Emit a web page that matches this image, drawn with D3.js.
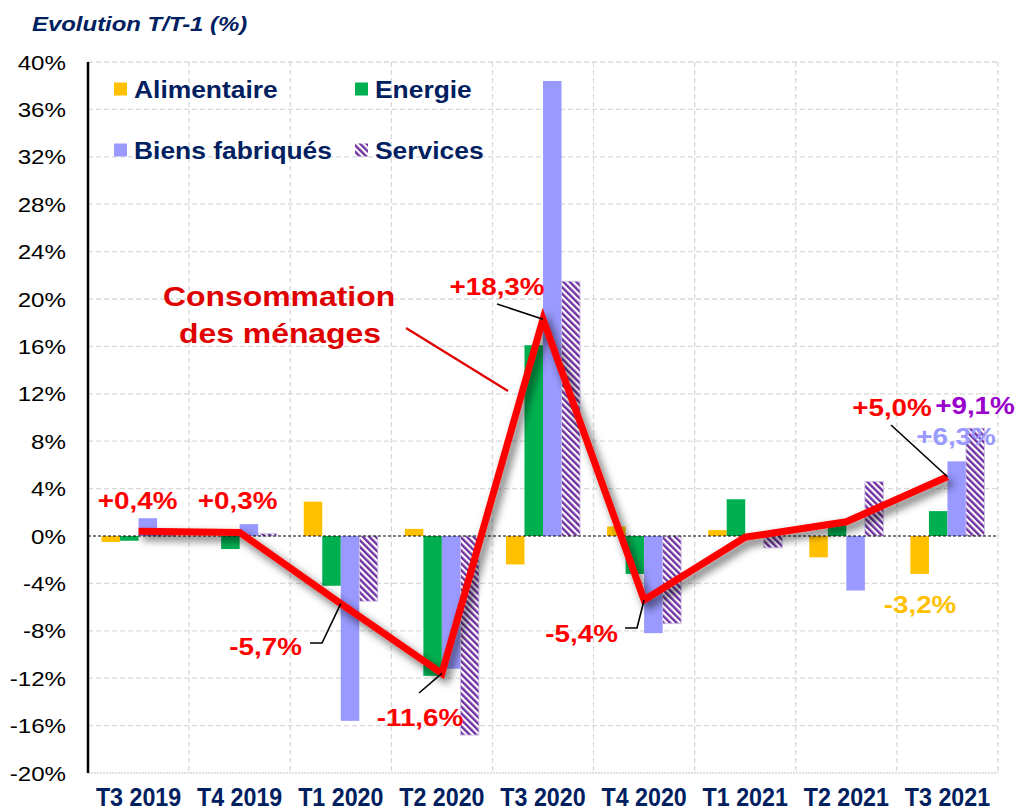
<!DOCTYPE html>
<html><head><meta charset="utf-8">
<script src="https://cdn.jsdelivr.net/npm/d3@7"></script>
<style>body{margin:0;background:#fff}svg{display:block}</style>
</head><body>
<svg id="c" width="1016" height="812"></svg>
<script>
const categories = ["T3 2019","T4 2019","T1 2020","T2 2020","T3 2020","T4 2020","T1 2021","T2 2021","T3 2021"];
const seriesNames = ["Alimentaire","Energie","Biens fabriqués","Services"];
const alimentaire = [-0.5, 0.0, 2.9, 0.6, -2.4, 0.8, 0.5, -1.8, -3.2];
const energie     = [-0.4, -1.1, -4.2, -11.8, 16.1, -3.2, 3.1, 1.0, 2.1];
const biens       = [1.5, 1.0, -15.6, -11.2, 38.4, -8.2, 0.0, -4.6, 6.3];
const services    = [0.1, 0.2, -5.5, -16.8, 21.5, -7.4, -1.0, 4.6, 9.1];
const consommation = [0.4, 0.3, -5.7, -11.6, 18.3, -5.4, -0.1, 1.2, 5.0];
const yTicks = [40,36,32,28,24,20,16,12,8,4,0,-4,-8,-12,-16,-20];
const seriesColors = ["#ffc000","#00b050","#9999ff","url(#svcPat)"];

const svg = d3.select("#c");
const L = 88, R = 998, T = 62, B = 773;
const x = d3.scaleBand().domain(categories).range([L, R]).padding(0);
const x1 = d3.scaleBand().domain(seriesNames).range([0, x.bandwidth()]).paddingInner(0).paddingOuter(0.73);
const y = d3.scaleLinear().domain([-20, 40]).range([B, T]);
const navy = "#002060";

const defs = svg.append("defs");
const pat = defs.append("pattern").attr("id","svcPat").attr("patternUnits","userSpaceOnUse")
  .attr("width",4.6).attr("height",4.6).attr("patternTransform","rotate(-45)");
pat.append("rect").attr("width",4.6).attr("height",4.6).attr("fill","#fff");
pat.append("rect").attr("width",2.4).attr("height",4.6).attr("fill","#7030a0");
const f = defs.append("filter").attr("id","sh").attr("x","-20%").attr("y","-20%").attr("width","140%").attr("height","140%");
f.append("feDropShadow").attr("dx",4).attr("dy",5).attr("stdDeviation",4).attr("flood-color","#000").attr("flood-opacity",0.6);

function txt(g, px, py, s, size, opts={}) {
  return g.append("text").attr("transform",`translate(${px},${py}) scale(${opts.sx||1.15},1)`)
    .attr("font-family", opts.family || "'Liberation Sans', Arial, sans-serif")
    .attr("font-size", size).attr("font-weight", opts.weight || "bold")
    .attr("font-style", opts.style || "normal")
    .attr("text-anchor", opts.anchor || "middle")
    .attr("fill", opts.fill || "#ff0000").text(s);
}

// gridlines
const grid = svg.append("g");
grid.selectAll(".hg").data(yTicks.filter(d=>d!==0 && d!==-20)).join("line")
  .attr("x1",L).attr("x2",R).attr("y1",d=>y(d)).attr("y2",d=>y(d))
  .attr("stroke","#d9d9d9").attr("stroke-width",1.3).attr("stroke-dasharray","5,3");
grid.selectAll(".vg").data(categories).join("line")
  .attr("x1",d=>x(d)+x.bandwidth()).attr("x2",d=>x(d)+x.bandwidth()).attr("y1",T).attr("y2",B)
  .attr("stroke","#d9d9d9").attr("stroke-width",1.3).attr("stroke-dasharray","5,3");
grid.append("line").attr("x1",L).attr("x2",R).attr("y1",y(-20)).attr("y2",y(-20))
  .attr("stroke","#bfbfbf").attr("stroke-width",1.2).attr("stroke-dasharray","2,1");

// bars
const allSeries = [alimentaire, energie, biens, services];
allSeries.forEach((vals, si) => {
  svg.append("g").selectAll("rect").data(vals).join("rect")
    .attr("x",(d,i)=>x(categories[i]) + x1(seriesNames[si]))
    .attr("width", x1.bandwidth())
    .attr("y", d=>y(Math.max(0,d)))
    .attr("height", d=>Math.abs(y(d)-y(0)))
    .attr("fill", seriesColors[si])
    .attr("stroke", si===3 ? "#c9bde6" : "none").attr("stroke-width", si===3 ? 0.8 : 0);
});

// zero line
svg.append("line").attr("x1",L).attr("x2",R).attr("y1",y(0)).attr("y2",y(0))
  .attr("stroke","#000").attr("stroke-width",1).attr("stroke-dasharray","3,2");

// y axis
svg.append("line").attr("x1",L).attr("x2",L).attr("y1",T).attr("y2",B).attr("stroke","#000").attr("stroke-width",2.5);
const yAxis = svg.append("g");
yTicks.forEach(v => {
  txt(yAxis, 66, y(v)+7.5, v+"%", 21, {weight:"normal", anchor:"end", fill:"#000", sx:1.15});
});

// category labels
const xl = svg.append("g");
categories.forEach(c => {
  txt(xl, x(c)+x.bandwidth()/2, 806, c, 25, {fill:navy, sx:0.93});
});

// title
txt(svg, 32, 31, "Evolution T/T-1 (%)", 21, {anchor:"start", fill:navy, style:"italic", sx:1.14});

// legend
const lg = svg.append("g");
const legPos = [[114,89],[355,89],[114,150],[355,150]];
seriesNames.forEach((n,i)=>{
  const [lx,ly] = legPos[i];
  lg.append("rect").attr("x",lx).attr("y",ly-6.5).attr("width",13).attr("height",13).attr("fill",seriesColors[i]);
  txt(lg, lx+20, ly+8.5, n, 24, {anchor:"start", fill:navy, sx:1.1});
});

// consumption line
const px = i => x(categories[i]) + x.bandwidth()/2;
const line = d3.line().x((d,i)=>px(i)).y(d=>y(d));
svg.append("path").datum(consommation).attr("d",line).attr("fill","none")
  .attr("stroke","#ff0000").attr("stroke-width",7).attr("stroke-linejoin","miter").attr("filter","url(#sh)");

// annotation
svg.append("line").attr("x1",406).attr("y1",328).attr("x2",508).attr("y2",391).attr("stroke","#e00000").attr("stroke-width",2.2);
txt(svg, 279, 306, "Consommation", 28, {fill:"#e00000", sx:1.14});
txt(svg, 280, 343, "des ménages", 28, {fill:"#e00000", sx:1.14});

// value labels
const lab = svg.append("g");
const fmt = v => (v>0?"+":"") + v.toFixed(1).replace(".",",") + "%";
const leader = pts => lab.append("polyline").attr("points", pts.map(p=>p.join(",")).join(" "))
  .attr("fill","none").attr("stroke","#000").attr("stroke-width",1.6);
const FS = 24, LSX = 1.16;
txt(lab, px(0)-1, 509, fmt(consommation[0]), FS, {sx:LSX});
txt(lab, px(1)-2, 509, fmt(consommation[1]), FS, {sx:LSX});
leader([[310,643],[322,643],[px(2),y(consommation[2])]]);
txt(lab, 302, 655, fmt(consommation[2]), FS, {sx:LSX, anchor:"end"});
leader([[419,693],[px(3),y(consommation[3])]]);
txt(lab, 420, 726, fmt(consommation[3]), FS, {sx:LSX});
leader([[497,304],[px(4),y(consommation[4])]]);
txt(lab, 497, 295, fmt(consommation[4]), FS, {sx:LSX});
leader([[625,628],[637,628],[px(5),y(consommation[5])]]);
txt(lab, 618, 642, fmt(consommation[5]), FS, {sx:LSX, anchor:"end"});
leader([[891,425],[px(8),y(consommation[8])]]);
txt(lab, 892, 416, fmt(consommation[8]), FS, {sx:LSX});
txt(lab, 975, 414, fmt(services[8]), FS, {sx:LSX, fill:"#9900cc"});
txt(lab, 956, 445, fmt(biens[8]), FS, {sx:LSX, fill:"#9999ff"});
txt(lab, 920, 613, fmt(alimentaire[8]), FS, {sx:LSX, fill:"#ffc000"});
</script>
</body></html>
